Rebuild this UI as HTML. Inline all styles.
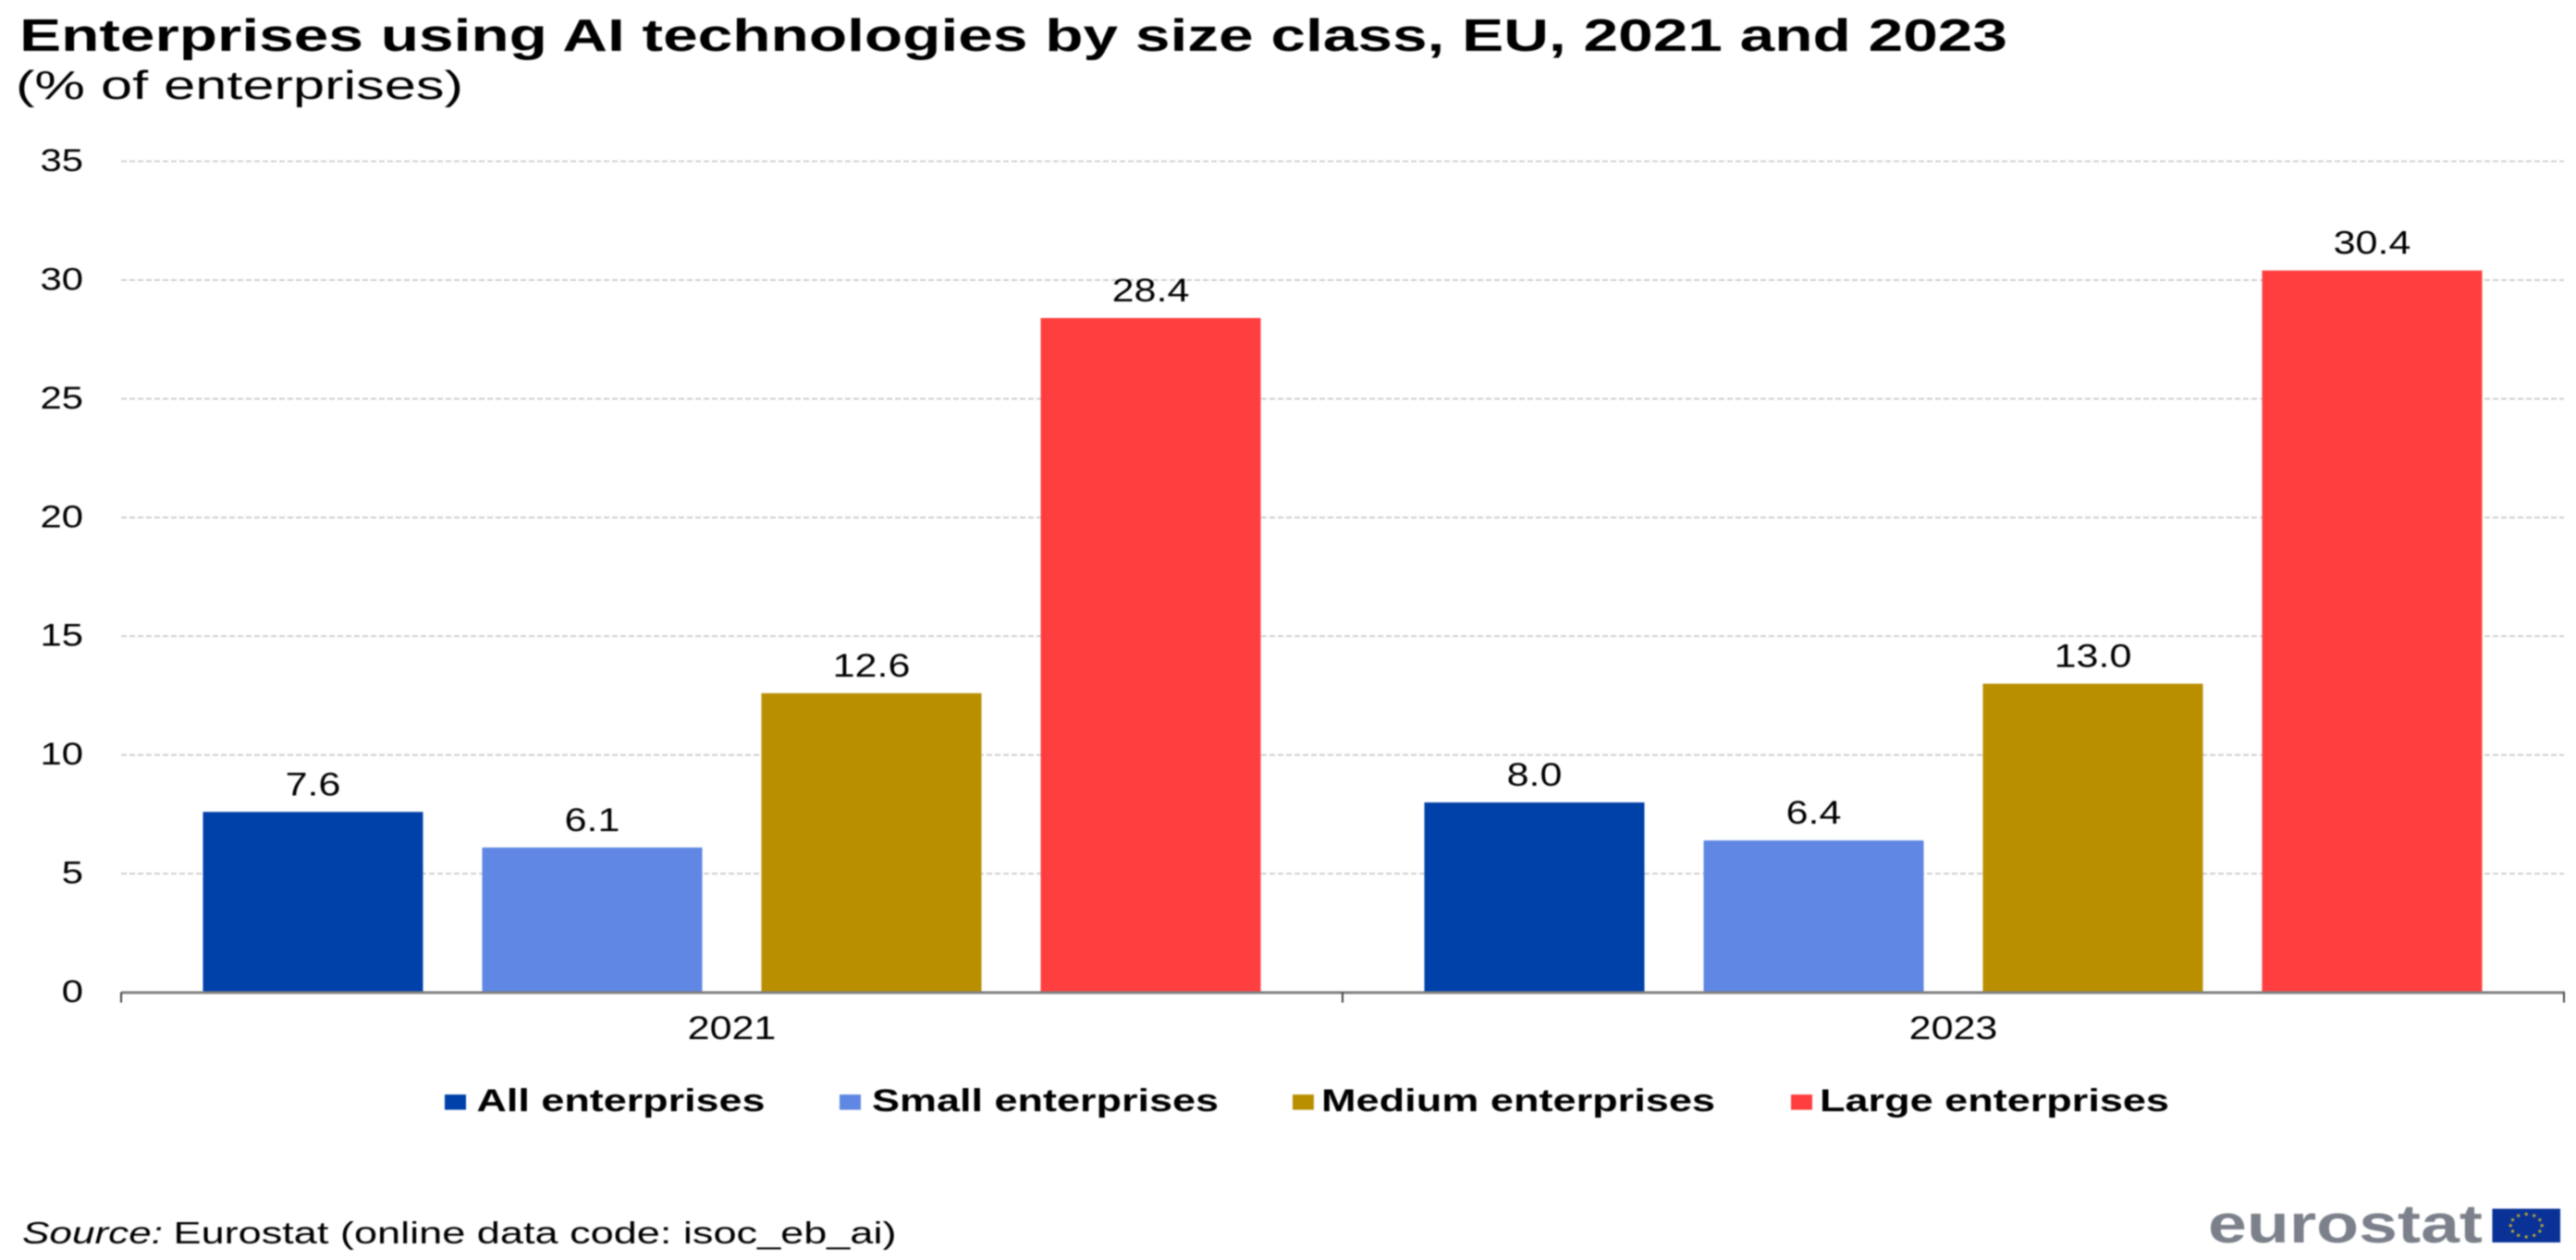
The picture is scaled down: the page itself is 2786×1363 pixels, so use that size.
<!DOCTYPE html>
<html lang="en">
<head>
<meta charset="utf-8">
<title>Enterprises using AI technologies by size class, EU, 2021 and 2023</title>
<style>
  html, body { margin: 0; padding: 0; background: #fff; }
  body { width: 2786px; height: 1363px; overflow: hidden; }
  svg { display: block; filter: blur(0.7px); }
  text { font-family: "Liberation Sans", Arial, sans-serif; fill: #000; }
</style>
</head>
<body>
<svg id="chart" xmlns="http://www.w3.org/2000/svg" width="2786" height="1363" viewBox="0 0 2786 1363">
  <rect x="0" y="0" width="2786" height="1363" fill="#fff"/>
  <text x="21" y="55" font-size="49" font-weight="700" textLength="2150" lengthAdjust="spacingAndGlyphs">Enterprises using AI technologies by size class, EU, 2021 and 2023</text>
  <text x="17" y="107" font-size="44" textLength="484" lengthAdjust="spacingAndGlyphs">(% of enterprises)</text>

  <g id="grid"></g>
  <g id="bars"></g>
  <g id="axes"></g>
  <g id="labels"></g>

  <g>
    <g>
      <rect x="481" y="1184" width="23" height="16.5" fill="#0041a9"/>
      <text x="515.5" y="1202" font-size="34" font-weight="700" textLength="312" lengthAdjust="spacingAndGlyphs">All enterprises</text>
    </g>
    <g>
      <rect x="908" y="1184" width="23" height="16.5" fill="#5f87e3"/>
      <text x="943" y="1202" font-size="34" font-weight="700" textLength="375" lengthAdjust="spacingAndGlyphs">Small enterprises</text>
    </g>
    <g>
      <rect x="1398" y="1184" width="23" height="16.5" fill="#b98f00"/>
      <text x="1429" y="1202" font-size="34" font-weight="700" textLength="426" lengthAdjust="spacingAndGlyphs">Medium enterprises</text>
    </g>
    <g>
      <rect x="1937" y="1184" width="23" height="16.5" fill="#ff3f3f"/>
      <text x="1968" y="1202" font-size="34" font-weight="700" textLength="378" lengthAdjust="spacingAndGlyphs">Large enterprises</text>
    </g>
  </g>

  <g>
    <text x="24" y="1345" font-size="33" font-style="italic" textLength="152" lengthAdjust="spacingAndGlyphs">Source:</text>
    <text x="187.5" y="1345" font-size="33" textLength="782" lengthAdjust="spacingAndGlyphs">Eurostat (online data code: isoc_eb_ai)</text>
  </g>

  <g>
    <text x="2388" y="1344" font-size="58" font-weight="700" textLength="297" lengthAdjust="spacingAndGlyphs" style="fill:#7b808a">eurostat</text>
    <rect x="2695.5" y="1307.5" width="73.5" height="36.5" fill="#0a3296"/>
    <g id="stars"></g>
  </g>
</svg>

<script>
const categories = ['2021', '2023'];
const seriesNames = ['All enterprises', 'Small enterprises', 'Medium enterprises', 'Large enterprises'];
const allEnterprises = [7.6, 8.0];
const smallEnterprises = [6.1, 6.4];
const mediumEnterprises = [12.6, 13.0];
const largeEnterprises = [28.4, 30.4];
const yTicks = [0, 5, 10, 15, 20, 25, 30, 35];

const NS = 'http://www.w3.org/2000/svg';
const seriesValues = [allEnterprises, smallEnterprises, mediumEnterprises, largeEnterprises];
const seriesColors = ['#0041a9', '#5f87e3', '#b98f00', '#ff3f3f'];
const seriesSlugs = ['all', 'small', 'medium', 'large'];

const plot = { left: 131, right: 2773, zeroY: 1073.5, topY: 174.5, yMax: 35 };
const barWidth = 238;
const barPitch = 302;
const textStretch = 1.23;

function yScale(v) {
  return plot.zeroY - (v / plot.yMax) * (plot.zeroY - plot.topY);
}
function bandStart(c) {
  return plot.left + c * (plot.right - plot.left) / categories.length;
}
function bandCenter(c) {
  return bandStart(c) + (plot.right - plot.left) / categories.length / 2;
}
function barX(c, s) {
  const groupWidth = barPitch * (seriesNames.length - 1) + barWidth;
  const band = (plot.right - plot.left) / categories.length;
  return bandStart(c) + (band - groupWidth) / 2 + s * barPitch;
}
function make(tag, parentId) {
  const el = document.createElementNS(NS, tag);
  document.getElementById(parentId).appendChild(el);
  return el;
}
function placeText(el, str, x, y, anchor, size) {
  el.textContent = str;
  el.setAttribute('transform', 'translate(' + x + ',' + y + ') scale(' + textStretch + ',1)');
  el.setAttribute('text-anchor', anchor);
  el.setAttribute('font-size', size);
}

yTicks.forEach(function (t) {
  if (t !== 0) {
    const line = make('line', 'grid');
    
    
    line.setAttribute('x1', plot.left);
    line.setAttribute('x2', plot.right);
    line.setAttribute('y1', yScale(t));
    line.setAttribute('y2', yScale(t));
    line.setAttribute('stroke', '#c4c4c4');
    line.setAttribute('stroke-width', '1.6');
    line.setAttribute('stroke-dasharray', '6 3');
  }
  const label = make('text', 'axes');
  
  
  placeText(label, String(t), 90, yScale(t) + 10.5, 'end', 34);
});

categories.forEach(function (cat, c) {
  seriesNames.forEach(function (name, s) {
    const v = seriesValues[s][c];
    const bar = make('rect', 'bars');
    
    
    bar.setAttribute('x', barX(c, s));
    bar.setAttribute('y', yScale(v));
    bar.setAttribute('width', barWidth);
    bar.setAttribute('height', plot.zeroY - yScale(v));
    bar.setAttribute('fill', seriesColors[s]);

    const val = make('text', 'labels');
    
    
    placeText(val, v.toFixed(1), barX(c, s) + barWidth / 2, yScale(v) - 18, 'middle', 35);
  });

  const catLabel = make('text', 'axes');
  
  
  placeText(catLabel, cat, bandCenter(c), 1124, 'middle', 35);
});

const axisLine = make('line', 'axes');


axisLine.setAttribute('x1', plot.left);
axisLine.setAttribute('x2', plot.right + 1);
axisLine.setAttribute('y1', plot.zeroY + 0.3);
axisLine.setAttribute('y2', plot.zeroY + 0.3);
axisLine.setAttribute('stroke', '#808080');
axisLine.setAttribute('stroke-width', '3');

for (let i = 0; i <= categories.length; i++) {
  const tick = make('line', 'axes');
  
  
  tick.setAttribute('x1', bandStart(i));
  tick.setAttribute('x2', bandStart(i));
  tick.setAttribute('y1', plot.zeroY);
  tick.setAttribute('y2', plot.zeroY + 11);
  tick.setAttribute('stroke', '#404040');
  tick.setAttribute('stroke-width', '2');
}

for (let i = 0; i < 12; i++) {
  const a = i * Math.PI / 6;
  const star = make('circle', 'stars');
  
  
  star.setAttribute('cx', 2732.2 + 17 * Math.cos(a));
  star.setAttribute('cy', 1325.7 + 12.3 * Math.sin(a));
  star.setAttribute('r', '1.6');
  star.setAttribute('fill', '#c2a92e');
}
</script>
</body>
</html>
